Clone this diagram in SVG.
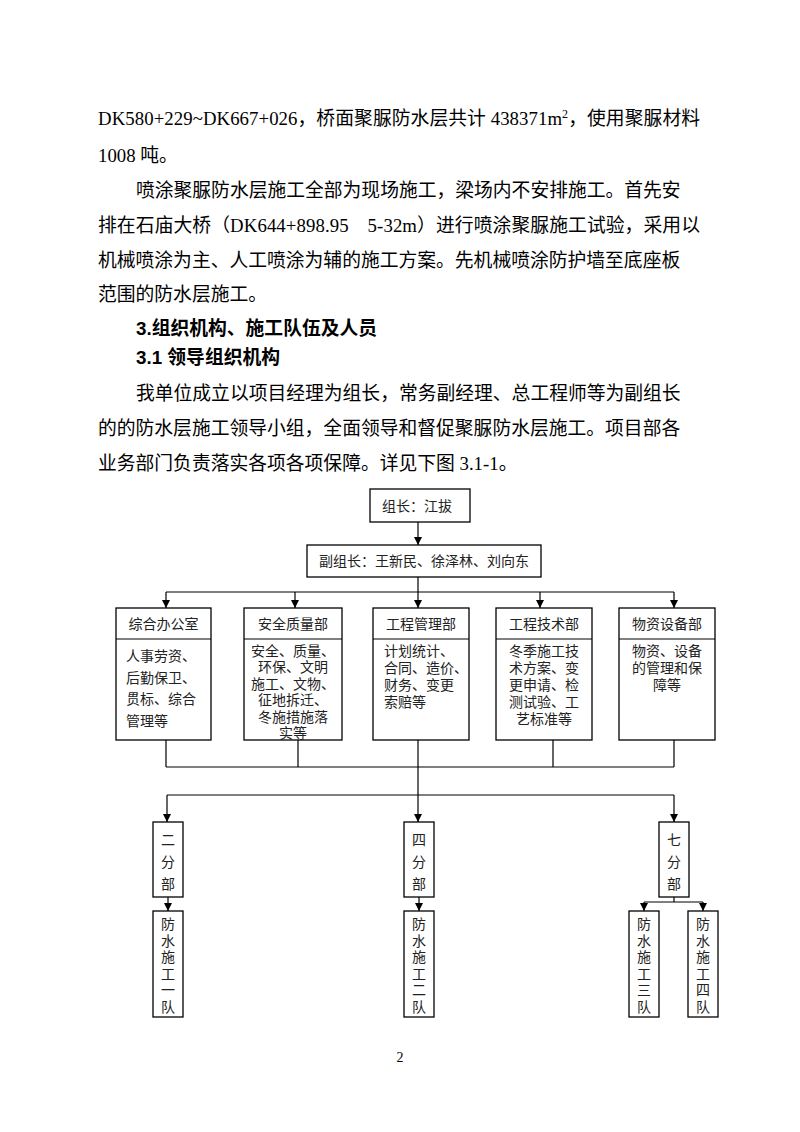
<svg xmlns="http://www.w3.org/2000/svg" width="800" height="1132" viewBox="0 0 800 1132">
<style>
.body{font-family:"Liberation Serif","Noto Sans CJK SC",serif;font-size:18.8px;fill:#000}
.head{font-family:"Liberation Sans","Noto Sans CJK SC",sans-serif;font-size:18.8px;font-weight:bold;fill:#000}
.t{font-family:"Liberation Serif","Noto Sans CJK SC",serif;font-size:14px;fill:#222}
.c{text-anchor:middle}
.box{fill:#fff;stroke:#000;stroke-width:1.3}
.ln{fill:none;stroke:#000;stroke-width:1.2}
</style>
<defs>
<marker id="ah" viewBox="0 0 10 10" refX="10" refY="5" markerWidth="8" markerHeight="9" markerUnits="userSpaceOnUse" orient="auto">
<path d="M0,0 L10,5 L0,10 z" fill="#000"/>
</marker>
</defs>
<rect width="800" height="1132" fill="#fff"/>

<g id="text-body">
<text class="body" x="98" y="125" textLength="602" lengthAdjust="spacing">DK580+229~DK667+026，桥面聚脲防水层共计 438371m<tspan font-size="12" dy="-7">2</tspan><tspan dy="7">，使用聚脲材料</tspan></text>
<text class="body" x="98" y="162">1008 吨。</text>
<text class="body" x="136" y="197">喷涂聚脲防水层施工全部为现场施工，梁场内不安排施工。首先安</text>
<text class="body" x="98" y="232" textLength="602" lengthAdjust="spacing">排在石庙大桥（DK644+898.95　5-32m）进行喷涂聚脲施工试验，采用以</text>
<text class="body" x="98" y="267">机械喷涂为主、人工喷涂为辅的施工方案。先机械喷涂防护墙至底座板</text>
<text class="body" x="98" y="301">范围的防水层施工。</text>
<text class="head" x="136" y="335">3.组织机构、施工队伍及人员</text>
<text class="head" x="136" y="364">3.1 领导组织机构</text>
<text class="body" x="136" y="400">我单位成立以项目经理为组长，常务副经理、总工程师等为副组长</text>
<text class="body" x="98" y="435">的的防水层施工领导小组，全面领导和督促聚脲防水层施工。项目部各</text>
<text class="body" x="98" y="470">业务部门负责落实各项各项保障。详见下图 3.1-1。</text>
</g>

<g id="connectors">
<path class="ln" d="M418,522 V545" marker-end="url(#ah)"/>
<path class="ln" d="M418,577 V592 M166,592 H674"/>
<path class="ln" d="M166,592 V608" marker-end="url(#ah)"/>
<path class="ln" d="M295,592 V608" marker-end="url(#ah)"/>
<path class="ln" d="M418,592 V608" marker-end="url(#ah)"/>
<path class="ln" d="M540,592 V608" marker-end="url(#ah)"/>
<path class="ln" d="M674,592 V608" marker-end="url(#ah)"/>
<path class="ln" d="M166,740 V767 M298,740 V767 M553,740 V767 M674,740 V767 M166,767 H674"/>
<path class="ln" d="M418,740 V822" marker-end="url(#ah)"/>
<path class="ln" d="M167,795 H674"/>
<path class="ln" d="M167,795 V822" marker-end="url(#ah)"/>
<path class="ln" d="M674,795 V822" marker-end="url(#ah)"/>
<path class="ln" d="M168,897 V911" marker-end="url(#ah)"/>
<path class="ln" d="M419,897 V911" marker-end="url(#ah)"/>
<path class="ln" d="M674,897 V902 M644,902 H703"/>
<path class="ln" d="M644,902 V911" marker-end="url(#ah)"/>
<path class="ln" d="M703,902 V911" marker-end="url(#ah)"/>
</g>

<g id="leader">
<rect class="box" x="370" y="489" width="100" height="33"/>
<text class="t" x="382" y="511">组长：江拔</text>
</g>
<g id="deputy">
<rect class="box" x="307" y="545" width="234" height="32"/>
<text class="t c" x="424" y="566">副组长：王新民、徐泽林、刘向东</text>
</g>

<g id="dept-office">
<rect class="box" x="116" y="608" width="95" height="132"/>
<line class="ln" x1="116" y1="639" x2="211" y2="639"/>
<text class="t c" x="163.5" y="629">综合办公室</text>
<text class="t" x="126" y="661">人事劳资、</text>
<text class="t" x="126" y="682.5">后勤保卫、</text>
<text class="t" x="126" y="704">贯标、综合</text>
<text class="t" x="126" y="725.5">管理等</text>
</g>
<g id="dept-safety">
<rect class="box" x="244" y="608" width="98" height="132"/>
<line class="ln" x1="244" y1="639" x2="342" y2="639"/>
<text class="t c" x="293" y="629">安全质量部</text>
<text class="t c" x="293" y="656">安全、质量、</text>
<text class="t c" x="293" y="672.4">环保、文明</text>
<text class="t c" x="293" y="688.8">施工、文物、</text>
<text class="t c" x="293" y="705.2">征地拆迁、</text>
<text class="t c" x="293" y="721.6">冬施措施落</text>
<text class="t c" x="293" y="738">实等</text>
</g>
<g id="dept-engmgmt">
<rect class="box" x="373" y="608" width="96" height="132"/>
<line class="ln" x1="373" y1="639" x2="469" y2="639"/>
<text class="t c" x="421" y="629">工程管理部</text>
<text class="t" x="384" y="656">计划统计、</text>
<text class="t" x="384" y="673">合同、造价、</text>
<text class="t" x="384" y="690">财务、变更</text>
<text class="t" x="384" y="707">索赔等</text>
</g>
<g id="dept-engtech">
<rect class="box" x="496" y="608" width="96" height="132"/>
<line class="ln" x1="496" y1="639" x2="592" y2="639"/>
<text class="t c" x="544" y="629">工程技术部</text>
<text class="t c" x="544" y="656">冬季施工技</text>
<text class="t c" x="544" y="673">术方案、变</text>
<text class="t c" x="544" y="690">更申请、检</text>
<text class="t c" x="544" y="707">测试验、工</text>
<text class="t c" x="544" y="724">艺标准等</text>
</g>
<g id="dept-material">
<rect class="box" x="619" y="608" width="96" height="132"/>
<line class="ln" x1="619" y1="639" x2="715" y2="639"/>
<text class="t c" x="667" y="629">物资设备部</text>
<text class="t c" x="667" y="656">物资、设备</text>
<text class="t c" x="667" y="673">的管理和保</text>
<text class="t c" x="667" y="690">障等</text>
</g>

<g id="branch-2">
<rect class="box" x="153" y="822" width="30" height="75"/>
<text class="t c" x="168" y="845">二</text>
<text class="t c" x="168" y="867">分</text>
<text class="t c" x="168" y="889">部</text>
</g>
<g id="branch-4">
<rect class="box" x="404" y="822" width="30" height="75"/>
<text class="t c" x="419" y="845">四</text>
<text class="t c" x="419" y="867">分</text>
<text class="t c" x="419" y="889">部</text>
</g>
<g id="branch-7">
<rect class="box" x="659" y="822" width="30" height="75"/>
<text class="t c" x="674" y="845">七</text>
<text class="t c" x="674" y="867">分</text>
<text class="t c" x="674" y="889">部</text>
</g>

<g id="team-1">
<rect class="box" x="153" y="911" width="30" height="106"/>
<text class="t c" x="168" y="929">防</text>
<text class="t c" x="168" y="945.6">水</text>
<text class="t c" x="168" y="962.2">施</text>
<text class="t c" x="168" y="978.8">工</text>
<text class="t c" x="168" y="995.4">一</text>
<text class="t c" x="168" y="1012">队</text>
</g>
<g id="team-2">
<rect class="box" x="404" y="911" width="30" height="106"/>
<text class="t c" x="419" y="929">防</text>
<text class="t c" x="419" y="945.6">水</text>
<text class="t c" x="419" y="962.2">施</text>
<text class="t c" x="419" y="978.8">工</text>
<text class="t c" x="419" y="995.4">二</text>
<text class="t c" x="419" y="1012">队</text>
</g>
<g id="team-3">
<rect class="box" x="629" y="911" width="30" height="106"/>
<text class="t c" x="644" y="929">防</text>
<text class="t c" x="644" y="945.6">水</text>
<text class="t c" x="644" y="962.2">施</text>
<text class="t c" x="644" y="978.8">工</text>
<text class="t c" x="644" y="995.4">三</text>
<text class="t c" x="644" y="1012">队</text>
</g>
<g id="team-4">
<rect class="box" x="688" y="911" width="30" height="106"/>
<text class="t c" x="703" y="929">防</text>
<text class="t c" x="703" y="945.6">水</text>
<text class="t c" x="703" y="962.2">施</text>
<text class="t c" x="703" y="978.8">工</text>
<text class="t c" x="703" y="995.4">四</text>
<text class="t c" x="703" y="1012">队</text>
</g>

<text class="t c" x="400" y="1062" style="fill:#000">2</text>
</svg>
